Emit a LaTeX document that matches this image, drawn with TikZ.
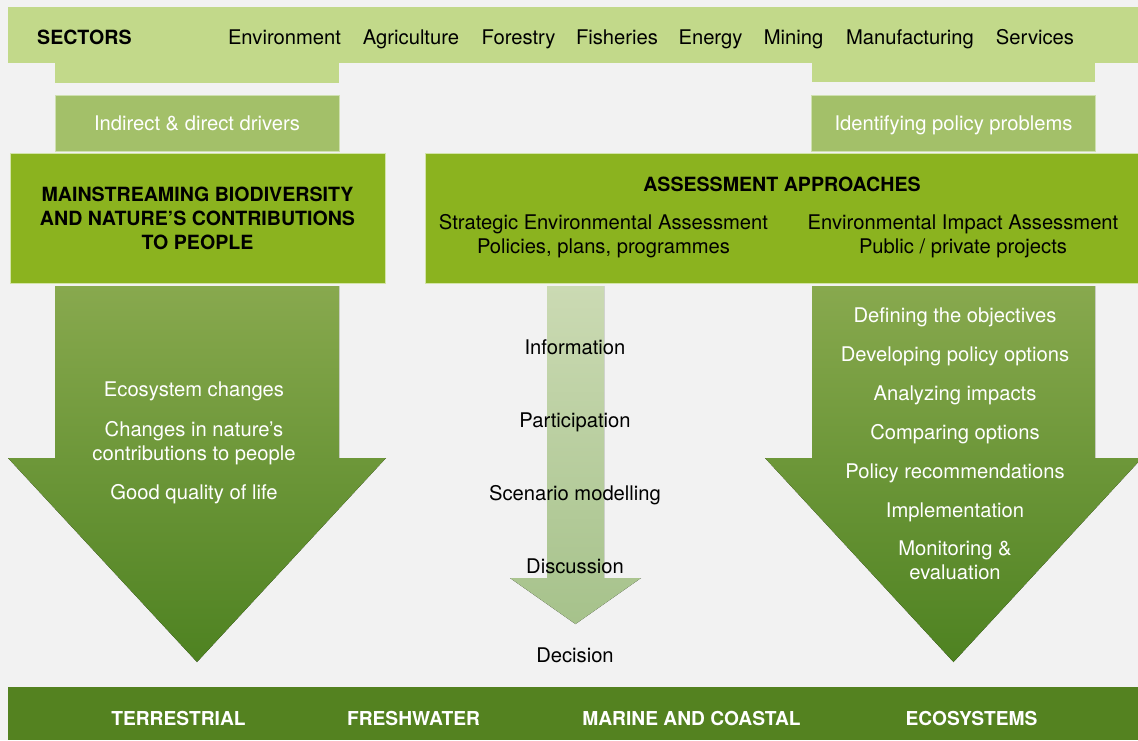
\documentclass[tikz,border=0pt]{standalone}
\usepackage{fontspec}
\setmainfont{TeX Gyre Heros}
\usetikzlibrary{positioning}

\definecolor{bgcol}{HTML}{F2F2F2}
\definecolor{sectorcol}{HTML}{C2D98A}
\definecolor{drivercol}{HTML}{A3C069}
\definecolor{driveredge}{HTML}{CFE0B0}
\definecolor{maincol}{HTML}{8BB31F}
\definecolor{mainedge}{HTML}{D3E4A8}
\definecolor{arrowtop}{HTML}{88A94E}
\definecolor{arrowbot}{HTML}{4E8221}
\definecolor{midtop}{HTML}{CBDAB3}
\definecolor{midbot}{HTML}{A6C28B}
\definecolor{ecocol}{HTML}{548220}

\begin{document}
\begin{tikzpicture}[
  x=1pt, y=-1pt,
  node distance=21pt,
  every node/.style={inner sep=0pt, align=center, font=\fontsize{20.2}{24}\selectfont},
  lbl/.style={text height=16pt, text depth=2pt},
  lite/.style={lbl, text=white},
  head/.style={font=\fontsize{19.6}{24}\selectfont\bfseries},
  eco/.style={lbl, text=white, font=\fontsize{19.2}{24}\selectfont\bfseries},
  drvbox/.style={lbl, fill=drivercol, draw=driveredge, line width=1pt, minimum width=284pt, minimum height=56pt, text=white},
  mainbox/.style={fill=maincol, draw=mainedge, line width=1pt, minimum height=130pt},
  bigarrow/.style={top color=arrowtop, bottom color=arrowbot},
  midarrow/.style={top color=midtop, bottom color=midbot}
]
  \fill[bgcol] (0,0) rectangle (1138,740);
  \useasboundingbox (0,0) rectangle (1138,740);

  \fill[sectorcol] (8,7) rectangle (1138,63);
  \fill[sectorcol] (55,62) rectangle (339,83);
  \fill[sectorcol] (812,62) rectangle (1095,82);
  \node[lbl, head, anchor=west] (sectors) at (37,37) {SECTORS};
  \node[lbl] (env) at (284.5,37) {Environment};
  \node[lbl] (agri) at (411,37) {Agriculture};
  \node[lbl] (forest) at (518.5,37) {Forestry};
  \node[lbl] (fish) at (617,37) {Fisheries};
  \node[lbl] (energy) at (710.5,37) {Energy};
  \node[lbl] (mining) at (793.5,37) {Mining};
  \node[lbl] (manuf) at (910,37) {Manufacturing};
  \node[lbl] (serv) at (1035,37) {Services};

  \node[drvbox] (drivers) at (197,123) {Indirect \& direct drivers};
  \node[drvbox] (problems) at (953.5,123) {Identifying policy problems};

  \node[mainbox, head, minimum width=375pt] (mainstream) at (197.5,218)
    {MAINSTREAMING BIODIVERSITY\\AND NATURE’S CONTRIBUTIONS\\TO PEOPLE};
  \node[mainbox, minimum width=713pt] (assess) at (781.5,218) {};
  \node[lbl, head] (approach) at (782,184) {ASSESSMENT APPROACHES};
  \node (sea) at (603.5,236) {Strategic Environmental Assessment\\Policies, plans, programmes};
  \node (eia) at (963,236) {Environmental Impact Assessment\\Public / private projects};

  \fill[bigarrow] (55,286) -- (339,286) -- (339,458) -- (386,458) -- (197,662)
    -- (8,458) -- (55,458) -- cycle;
  \fill[bigarrow] (812,286) -- (1095,286) -- (1095,458) -- (1142,458) -- (953.5,662)
    -- (765,458) -- (812,458) -- cycle;
  \fill[midarrow] (547,286) -- (604,286) -- (604,578) -- (641,578) -- (575.5,624)
    -- (510,578) -- (547,578) -- cycle;

  \node[lite] (ecochg) at (194,389) {Ecosystem changes};
  \node[text=white, below=23pt of ecochg] (ncp) {Changes in nature’s\\contributions to people};
  \node[lite, below=18pt of ncp] (qol) {Good quality of life};

  \node[lbl] (info) at (575,347) {Information};
  \node[lbl, below=55pt of info] (partic) {Participation};
  \node[lbl, below=55pt of partic] (scen) {Scenario modelling};
  \node[lbl, below=54pt of scen] (discuss) {Discussion};
  \node[lbl, below=71pt of discuss] (decide) {Decision};

  \node[lite] (objectives) at (955,315) {Defining the objectives};
  \node[lite, below=of objectives] (options) {Developing policy options};
  \node[lite, below=of options] (impacts) {Analyzing impacts};
  \node[lite, below=20.5pt of impacts] (compare) {Comparing options};
  \node[lite, below=20.5pt of compare] (recommend) {Policy recommendations};
  \node[lite, below=20.5pt of recommend] (implement) {Implementation};
  \node[text=white, below=of implement] (monitor) {Monitoring \&\\evaluation};

  \fill[ecocol] (8,687) rectangle (1138,740);
  \node[eco] (terr) at (178.5,718) {TERRESTRIAL};
  \node[eco] (fresh) at (413.5,718) {FRESHWATER};
  \node[eco] (marine) at (691.5,718) {MARINE AND COASTAL};
  \node[eco] (ecosys) at (971.5,718) {ECOSYSTEMS};
\end{tikzpicture}
\end{document}
